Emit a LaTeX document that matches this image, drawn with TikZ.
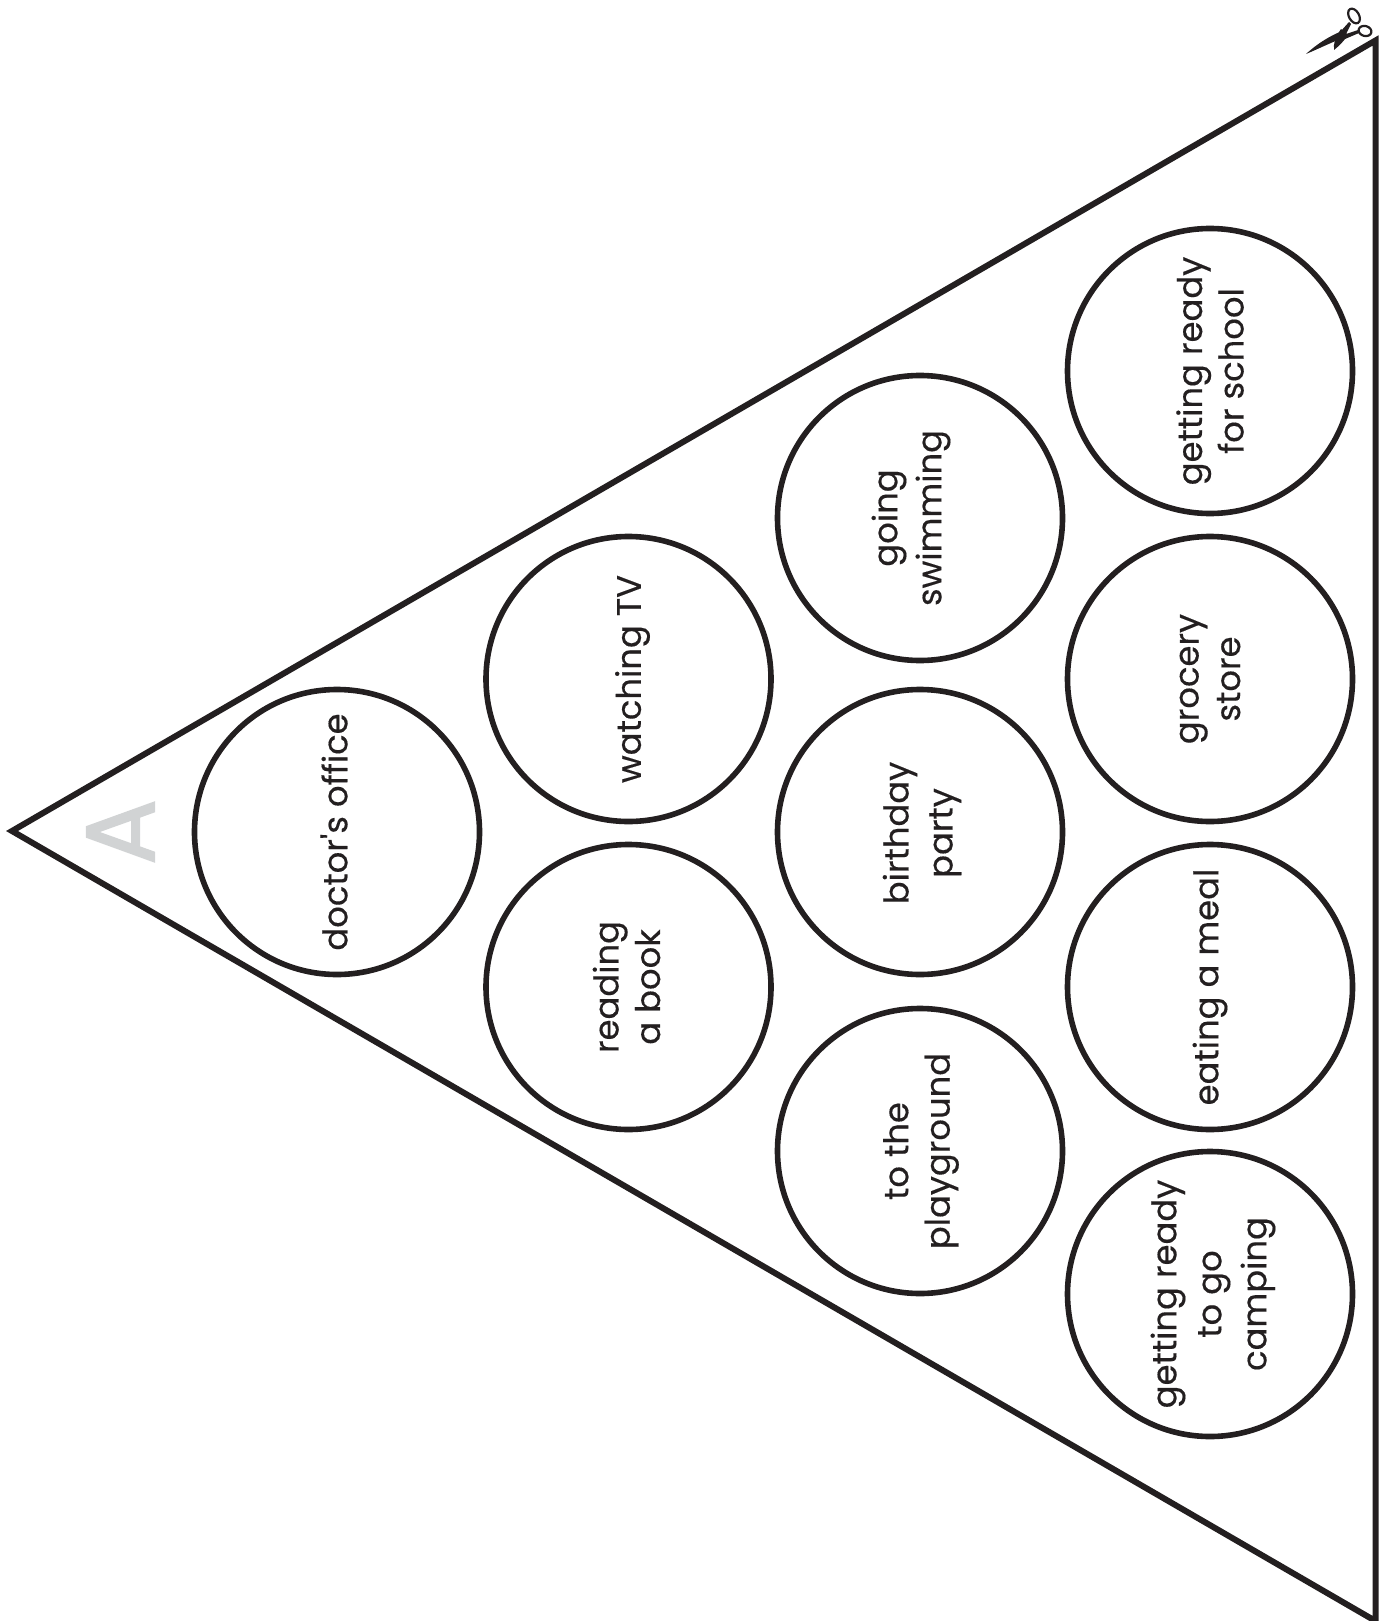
\documentclass[tikz,border=0pt]{standalone}
\usepackage{fontspec}
\setmainfont{Poppins}[Ligatures=TeXOff,BoldFont=Poppins,BoldFeatures={FakeBold=0.35}]
\newfontfamily\heavyletter{Poppins}[FakeBold=1.6]
\definecolor{ink}{HTML}{231F20}
\definecolor{lettergray}{HTML}{D1D3D4}
\tikzset{
  x=1pt,y=-1pt,
  disc/.style={circle,draw=ink,line width=5.6pt,minimum size=285pt,inner sep=0pt},
  lbl/.style={text=ink,align=center,rotate=90,inner sep=0pt,font=\fontsize{33.8}{41.5}\selectfont\bfseries},
  widelbl/.style={lbl,font=\fontsize{33.8}{44}\selectfont\bfseries},
  campinglbl/.style={lbl,font=\fontsize{33.8}{45}\selectfont\bfseries},
  edgeline/.style={draw=ink,line width=6pt,line join=miter,miter limit=20},
  bladefill/.style={fill=ink,draw=none},
  loopline/.style={draw=ink,line width=2.2pt}
}
\begin{document}
\begin{tikzpicture}
\useasboundingbox (0,0) rectangle (1385,1621);
\path[edgeline] (12,831) -- (1375.5,40.5) -- (1375.5,1621) -- cycle;
\node[disc] (doctor) at (337,832) {};
\node[disc] (tv) at (628.5,679) {};
\node[disc] (book) at (628.5,987) {};
\node[disc] (swim) at (920,518) {};
\node[disc] (party) at (920,832) {};
\node[disc] (play) at (920,1151) {};
\node[disc] (school) at (1210,371) {};
\node[disc] (grocery) at (1210,679) {};
\node[disc] (meal) at (1210,987) {};
\node[disc] (camp) at (1210,1294) {};
\node[lbl] (doctortext) at ([xshift=-3pt]doctor.center) {doctor's office};
\node[lbl] (tvtext) at ([xshift=4pt]tv.center) {watching TV};
\node[lbl] (booktext) at ([xshift=-2pt]book.center) {reading\\a book};
\node[widelbl] (swimtext) at ([xshift=-9pt]swim.center) {going\\swimming};
\node[widelbl] (partytext) at ([xshift=2pt,yshift=-1pt]party.center) {birthday\\party};
\node[lbl] (playtext) at ([xshift=1pt]play.center) {to the\\playground};
\node[lbl] (schooltext) at ([xshift=0pt]school.center) {getting ready\\for school};
\node[lbl] (grocerytext) at ([xshift=0pt]grocery.center) {grocery\\store};
\node[lbl] (mealtext) at ([xshift=0pt]meal.center) {eating a meal};
\node[campinglbl] (camptext) at ([xshift=3pt]camp.center) {getting ready\\to go\\camping};
\node[rotate=90,text=lettergray,font=\fontsize{98}{98}\selectfont\heavyletter,inner sep=0pt] (letter) at (120.5,832) {A};
% scissors
\path[bladefill] (1306,54) .. controls (1318,43) and (1330,36) .. (1342,31)
  -- (1347,36) -- (1343,38) .. controls (1330,43) and (1318,49) .. cycle;
\path[bladefill] (1334,50) .. controls (1333,44) and (1336,36) .. (1341,29)
  -- (1348,35) .. controls (1344,41) and (1339,46) .. cycle;
\path[bladefill] (1341,31) -- (1349,22) -- (1351,24) -- (1346,34) -- (1358,30) -- (1359,33) -- (1345,39) -- cycle;
\draw[loopline,rotate around={-60:(1354,16)}] (1354,16) ellipse (8 and 5);
\draw[loopline,rotate around={-15:(1365,31)}] (1365,31) ellipse (6.5 and 5);
\end{tikzpicture}
\end{document}
